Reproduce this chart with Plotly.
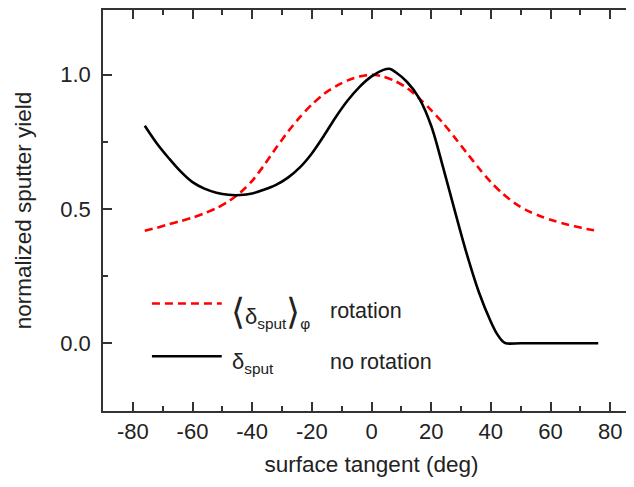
import plotly.graph_objects as go

# surface tangent angle (deg)
angle_black = [-76, -72, -68, -64, -60, -56, -52, -48, -44, -40, -36, -32, -28, -24, -20,
               -16, -12, -8, -4, 0, 4, 6, 8, 12, 16, 20, 24, 28, 32, 36, 40, 42, 44, 45,
               50, 56, 62, 68, 76]
yield_black = [0.81, 0.745, 0.69, 0.64, 0.60, 0.576, 0.561, 0.553, 0.552, 0.558, 0.572,
               0.59, 0.617, 0.655, 0.707, 0.772, 0.842, 0.904, 0.955, 0.994, 1.018,
               1.022, 1.01, 0.972, 0.912, 0.81, 0.655, 0.49, 0.33, 0.19, 0.08, 0.036,
               0.007, 0.0, 0.0, 0.0, 0.0, 0.0, 0.0]

angle_red = [-76, -72, -68, -64, -60, -56, -52, -48, -44, -40, -36, -32, -28, -24, -20,
             -16, -12, -8, -4, 0, 4, 8, 12, 16, 20, 24, 28, 32, 36, 40, 44, 48, 52, 56,
             60, 64, 68, 72, 76]
yield_red = [0.419, 0.43, 0.443, 0.455, 0.468, 0.484, 0.503, 0.528, 0.561, 0.605, 0.663,
             0.727, 0.788, 0.842, 0.889, 0.928, 0.957, 0.979, 0.993, 1.0, 0.993, 0.976,
             0.95, 0.912, 0.868, 0.82, 0.765, 0.708, 0.652, 0.6, 0.557, 0.522, 0.495,
             0.476, 0.46, 0.447, 0.436, 0.426, 0.418]

x_ticks = [-80, -60, -40, -20, 0, 20, 40, 60, 80]
x_tick_labels = ["-80", "-60", "-40", "-20", "0", "20", "40", "60", "80"]
y_ticks = [0.0, 0.5, 1.0]
y_tick_labels = ["0.0", "0.5", "1.0"]

FONT = "Liberation Sans, Arial, sans-serif"
INK = "#222222"
AX = "#333333"

fig = go.Figure()
fig.add_trace(go.Scatter(x=angle_red, y=yield_red, mode="lines",
                         line=dict(color="#ff0000", width=2.6, dash="8px,5px",
                                   shape="spline", smoothing=0.8),
                         showlegend=False, hoverinfo="skip"))
fig.add_trace(go.Scatter(x=angle_black, y=yield_black, mode="lines",
                         line=dict(color="#000000", width=2.6, shape="spline", smoothing=1.0),
                         showlegend=False, hoverinfo="skip"))

# legend drawn by hand
fig.add_shape(type="line", xref="x", yref="y", x0=-73.6, x1=-50.2, y0=0.148, y1=0.148,
              line=dict(color="#ff0000", width=2.6, dash="8px,5px"))
fig.add_shape(type="line", xref="x", yref="y", x0=-73.6, x1=-50.2, y0=-0.048, y1=-0.048,
              line=dict(color="#000000", width=2.6))

big = "<span style='font-size:36px'>%s</span>"
fig.add_annotation(x=-47.8, y=0.118, xref="x", yref="y", xanchor="left", yanchor="middle",
                   showarrow=False,
                   text=(big % "⟨") + "δ<sub>sput</sub>" + (big % "⟩") + "<sub>φ</sub>",
                   font=dict(family=FONT, size=22, color=INK))
fig.add_annotation(x=-14.5, y=0.122, xref="x", yref="y", xanchor="left", yanchor="middle",
                   showarrow=False, text="rotation",
                   font=dict(family=FONT, size=21.5, color=INK))
fig.add_annotation(x=-47.3, y=-0.075, xref="x", yref="y", xanchor="left", yanchor="middle",
                   showarrow=False, text="δ<sub>sput</sub>",
                   font=dict(family=FONT, size=22, color=INK))
fig.add_annotation(x=-14.5, y=-0.07, xref="x", yref="y", xanchor="left", yanchor="middle",
                   showarrow=False, text="no rotation",
                   font=dict(family=FONT, size=21.5, color=INK))

axis_common = dict(showline=True, linecolor=AX, linewidth=1.5, ticks="inside",
                   tickcolor=AX, tickwidth=1.5, ticklen=9, showgrid=False,
                   zeroline=False, mirror="ticks",
                   tickfont=dict(family=FONT, size=22, color=INK))

fig.update_xaxes(range=[-90, 90], tickvals=x_ticks, ticktext=x_tick_labels,
                 minor=dict(dtick=10, tick0=0, ticks="inside", ticklen=5, tickwidth=1.5,
                            tickcolor=AX),
                 title=dict(text="surface tangent (deg)", font=dict(family=FONT, size=22.5, color=INK),
                            standoff=13),
                 ticklabelstandoff=0, **axis_common)
fig.update_yaxes(range=[-0.252, 1.241], tickvals=y_ticks, ticktext=y_tick_labels,
                 minor=dict(dtick=0.25, tick0=0, ticks="inside", ticklen=5, tickwidth=1.5,
                            tickcolor=AX),
                 title=dict(text="normalized sputter yield", font=dict(family=FONT, size=22.5, color=INK),
                            standoff=22),
                 ticklabelstandoff=6, **axis_common)

# the page adds an 8px body margin, so the plot area starts at (103, 8) on screen and
# its right edge falls just outside the 634px window, as in the reference
fig.update_layout(width=634, height=487, margin=dict(l=95, r=0, t=0, b=84),
                  paper_bgcolor="white", plot_bgcolor="white", showlegend=False)

fig.write_html("out.html")
